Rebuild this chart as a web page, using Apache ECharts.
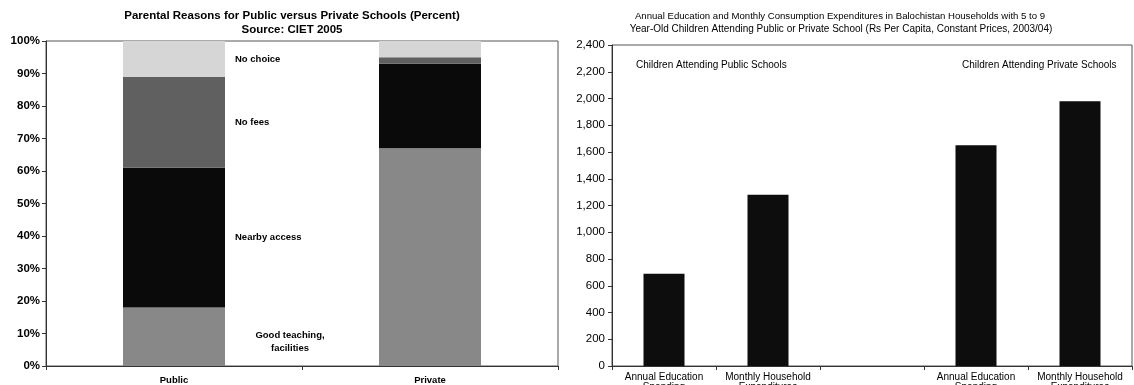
<!DOCTYPE html>
<html><head><meta charset="utf-8">
<script src="https://cdn.jsdelivr.net/npm/echarts@6/dist/echarts.min.js"></script>
<style>html,body{margin:0;padding:0;background:#fff}#c{width:1134px;height:385px}</style>
</head><body><div id="c"></div>
<script>
// ---- Left chart data: parental reasons (percent) ----
const schoolTypes = ['Public', 'Private'];
const reasonNames = ['Good teaching,\nfacilities', 'Nearby access', 'No fees', 'No choice'];
const goodTeaching = [18, 67];
const nearbyAccess = [43, 26];
const noFees = [28, 2];
const noChoice = [11, 5];
const leftTitleLines = ['Parental Reasons for Public versus Private Schools (Percent)', 'Source: CIET 2005'];

// ---- Right chart data: expenditures (Rs per capita) ----
const spendCategories = ['Annual Education\nSpending', 'Monthly Household\nExpenditures', '', 'Annual Education\nSpending', 'Monthly Household\nExpenditures'];
const spendValues = [690, 1280, null, 1650, 1980];
const groupLabels = ['Children Attending Public Schools', 'Children Attending Private Schools'];
const rightTitleLines = ['Annual Education and Monthly Consumption Expenditures in Balochistan Households with 5 to 9',
  'Year-Old Children Attending Public or Private School (Rs Per Capita, Constant Prices, 2003/04)'];

const FONT = '"Liberation Sans", Arial, sans-serif';
const reasonData = [goodTeaching, nearbyAccess, noFees, noChoice];
const reasonColors = ['#888888', '#0a0a0a', '#606060', '#d6d6d6'];

const chart = echarts.init(document.getElementById('c'), null, {renderer: 'canvas'});

const leftSeries = reasonData.map((vals, i) => ({
  type: 'bar', name: reasonNames[i], stack: 'reasons', xAxisIndex: 0, yAxisIndex: 0,
  barWidth: 102, itemStyle: {color: reasonColors[i]},
  data: vals.map((v, j) => j === 0 ? {
    value: v,
    label: Object.assign({
      show: true, position: 'right', distance: 10, formatter: reasonNames[i],
      color: '#000', fontFamily: FONT, fontWeight: 'bold', fontSize: 9.5, lineHeight: 13
    }, i === 0 ? {align: 'center', offset: [55, 5]} : {})
  } : v)
}));

const axisLineStyle = {color: '#333', width: 1};

chart.setOption({
  animation: false,
  grid: [
    {left: 46, right: 576, top: 41, bottom: 19, show: true, borderColor: '#555', borderWidth: 1,
      backgroundColor: 'transparent', containLabel: false, outerBoundsMode: 'none'},
    {left: 612, right: 2, top: 45, bottom: 19, show: true, borderColor: '#555', borderWidth: 1,
      backgroundColor: 'transparent', containLabel: false, outerBoundsMode: 'none'}
  ],
  xAxis: [
    {type: 'category', gridIndex: 0, data: schoolTypes,
      axisLine: {lineStyle: axisLineStyle}, axisTick: {show: true, interval: 0, length: 4, lineStyle: axisLineStyle},
      axisLabel: {color: '#000', fontFamily: FONT, fontWeight: 'bold', fontSize: 9.5, margin: 9}},
    {type: 'category', gridIndex: 1, data: spendCategories,
      axisLine: {lineStyle: axisLineStyle}, axisTick: {show: true, interval: 0, length: 4, lineStyle: axisLineStyle},
      axisLabel: {interval: 0, color: '#000', fontFamily: FONT, fontSize: 10, lineHeight: 10, margin: 6}}
  ],
  yAxis: [
    {type: 'value', gridIndex: 0, min: 0, max: 100, interval: 10,
      axisLine: {show: true, lineStyle: axisLineStyle}, axisTick: {show: true, length: 4, lineStyle: axisLineStyle},
      splitLine: {show: false},
      axisLabel: {formatter: '{value}%', color: '#000', fontFamily: FONT, fontWeight: 'bold', fontSize: 11.5, margin: 6}},
    {type: 'value', gridIndex: 1, min: 0, max: 2400, interval: 200,
      axisLine: {show: true, lineStyle: axisLineStyle}, axisTick: {show: true, length: 4, lineStyle: axisLineStyle},
      splitLine: {show: false},
      axisLabel: {formatter: v => v.toLocaleString('en-US'), color: '#000', fontFamily: FONT, fontSize: 11.5, margin: 7}}
  ],
  series: leftSeries.concat([{
    type: 'bar', name: 'Rs per capita', xAxisIndex: 1, yAxisIndex: 1, barWidth: 41,
    itemStyle: {color: '#0d0d0d'}, data: spendValues
  }]),
  graphic: [
    {type: 'text', x: 292, y: 16, style: {text: leftTitleLines[0], font: 'bold 11.5px ' + FONT, fill: '#000', textAlign: 'center', textVerticalAlign: 'middle'}},
    {type: 'text', x: 292, y: 30, style: {text: leftTitleLines[1], font: 'bold 11.5px ' + FONT, fill: '#000', textAlign: 'center', textVerticalAlign: 'middle'}},
    {type: 'text', x: 840, y: 16, style: {text: rightTitleLines[0], font: '9.6px ' + FONT, fill: '#000', textAlign: 'center', textVerticalAlign: 'middle'}},
    {type: 'text', x: 841, y: 29, style: {text: rightTitleLines[1], font: '10px ' + FONT, fill: '#000', textAlign: 'center', textVerticalAlign: 'middle'}},
    {type: 'text', x: 636, y: 65, style: {text: groupLabels[0], font: '10px ' + FONT, fill: '#000', textAlign: 'left', textVerticalAlign: 'middle'}},
    {type: 'text', x: 962, y: 65, style: {text: groupLabels[1], font: '10px ' + FONT, fill: '#000', textAlign: 'left', textVerticalAlign: 'middle'}}
  ]
});
</script></body></html>
